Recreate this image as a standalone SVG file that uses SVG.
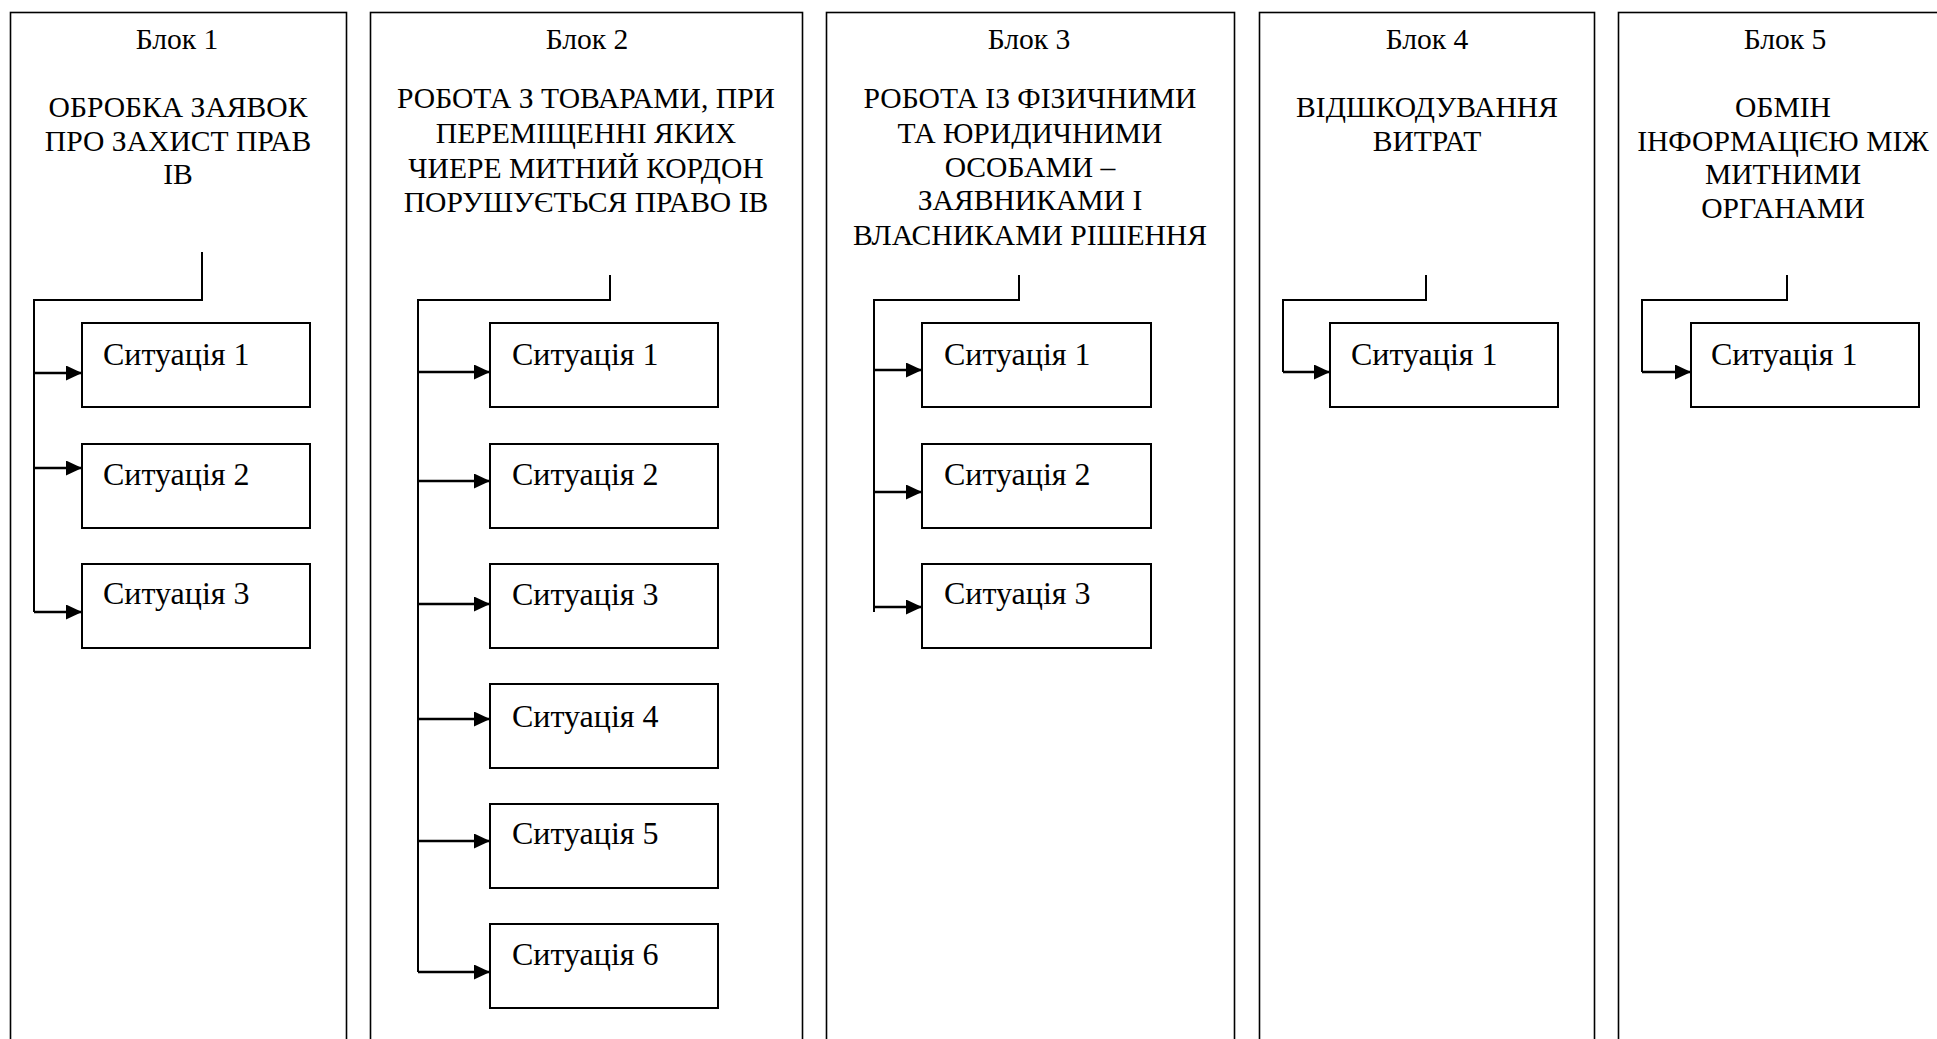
<svg xmlns="http://www.w3.org/2000/svg" width="1937" height="1039" viewBox="0 0 1937 1039">
<style>
.frame{fill:none;stroke:#000;stroke-width:1.6}
.box{fill:#fff;stroke:#000;stroke-width:2}
.t{font-family:"Liberation Serif","Times New Roman",serif;font-size:29.6px;text-anchor:middle;fill:#000}
.s{font-family:"Liberation Serif","Times New Roman",serif;font-size:32px;fill:#000}
.c{fill:none;stroke:#000;stroke-width:2}
.a{fill:none;stroke:#000;stroke-width:2.4;marker-end:url(#arr)}
</style>
<defs>
<marker id="arr" markerUnits="userSpaceOnUse" markerWidth="16" markerHeight="15" refX="16" refY="7.5" orient="auto">
<path d="M0,0 L16,7.5 L0,15 z" fill="#000"/>
</marker>
</defs>
<rect width="1937" height="1039" fill="#fff"/>

<g id="block1">
<rect class="frame" x="10.5" y="12.5" width="336" height="1100"/>
<text class="t" x="177" y="49">Блок 1</text>
<text class="t" x="178" y="117">ОБРОБКА ЗАЯВОК</text>
<text class="t" x="178" y="151">ПРО ЗАХИСТ ПРАВ</text>
<text class="t" x="178" y="184">ІВ</text>
</g>
<g id="b1s1"><rect class="box" x="82" y="323" width="228" height="84"/><text class="s" x="103" y="365">Ситуація 1</text></g>
<g id="b1s2"><rect class="box" x="82" y="444" width="228" height="84"/><text class="s" x="103" y="485">Ситуація 2</text></g>
<g id="b1s3"><rect class="box" x="82" y="564" width="228" height="84"/><text class="s" x="103" y="604">Ситуація 3</text></g>

<g id="block2">
<rect class="frame" x="370.5" y="12.5" width="432" height="1100"/>
<text class="t" x="587" y="49">Блок 2</text>
<text class="t" x="586" y="108">РОБОТА З ТОВАРАМИ, ПРИ</text>
<text class="t" x="586" y="143">ПЕРЕМІЩЕННІ ЯКИХ</text>
<text class="t" x="586" y="178">ЧИЕРЕ МИТНИЙ КОРДОН</text>
<text class="t" x="586" y="212">ПОРУШУЄТЬСЯ ПРАВО ІВ</text>
</g>
<g id="b2s1"><rect class="box" x="490" y="323" width="228" height="84"/><text class="s" x="512" y="365">Ситуація 1</text></g>
<g id="b2s2"><rect class="box" x="490" y="444" width="228" height="84"/><text class="s" x="512" y="485">Ситуація 2</text></g>
<g id="b2s3"><rect class="box" x="490" y="564" width="228" height="84"/><text class="s" x="512" y="605">Ситуація 3</text></g>
<g id="b2s4"><rect class="box" x="490" y="684" width="228" height="84"/><text class="s" x="512" y="727">Ситуація 4</text></g>
<g id="b2s5"><rect class="box" x="490" y="804" width="228" height="84"/><text class="s" x="512" y="844">Ситуація 5</text></g>
<g id="b2s6"><rect class="box" x="490" y="924" width="228" height="84"/><text class="s" x="512" y="965">Ситуація 6</text></g>

<g id="block3">
<rect class="frame" x="826.5" y="12.5" width="408" height="1100"/>
<text class="t" x="1029" y="49">Блок 3</text>
<text class="t" x="1030" y="108">РОБОТА ІЗ ФІЗИЧНИМИ</text>
<text class="t" x="1030" y="143">ТА ЮРИДИЧНИМИ</text>
<text class="t" x="1030" y="177">ОСОБАМИ –</text>
<text class="t" x="1030" y="210">ЗАЯВНИКАМИ І</text>
<text class="t" x="1030" y="245">ВЛАСНИКАМИ РІШЕННЯ</text>
</g>
<g id="b3s1"><rect class="box" x="922" y="323" width="229" height="84"/><text class="s" x="944" y="365">Ситуація 1</text></g>
<g id="b3s2"><rect class="box" x="922" y="444" width="229" height="84"/><text class="s" x="944" y="485">Ситуація 2</text></g>
<g id="b3s3"><rect class="box" x="922" y="564" width="229" height="84"/><text class="s" x="944" y="604">Ситуація 3</text></g>

<g id="block4">
<rect class="frame" x="1259.5" y="12.5" width="335" height="1100"/>
<text class="t" x="1427" y="49">Блок 4</text>
<text class="t" x="1427" y="117">ВІДШКОДУВАННЯ</text>
<text class="t" x="1427" y="151">ВИТРАТ</text>
</g>
<g id="b4s1"><rect class="box" x="1330" y="323" width="228" height="84"/><text class="s" x="1351" y="365">Ситуація 1</text></g>

<g id="block5">
<rect class="frame" x="1618.5" y="12.5" width="340" height="1100"/>
<text class="t" x="1785" y="49">Блок 5</text>
<text class="t" x="1783" y="117">ОБМІН</text>
<text class="t" x="1783" y="151">ІНФОРМАЦІЄЮ МІЖ</text>
<text class="t" x="1783" y="184">МИТНИМИ</text>
<text class="t" x="1783" y="218">ОРГАНАМИ</text>
</g>
<g id="b5s1"><rect class="box" x="1691" y="323" width="228" height="84"/><text class="s" x="1711" y="365">Ситуація 1</text></g>

<g id="connectors">
<path class="c" d="M202,252 V300 H34 V612"/>
<path class="a" d="M34,373 H82"/>
<path class="a" d="M34,468 H82"/>
<path class="a" d="M34,612 H82"/>

<path class="c" d="M610,275 V300 H418 V972"/>
<path class="a" d="M418,372 H490"/>
<path class="a" d="M418,481 H490"/>
<path class="a" d="M418,604 H490"/>
<path class="a" d="M418,719 H490"/>
<path class="a" d="M418,841 H490"/>
<path class="a" d="M418,972 H490"/>

<path class="c" d="M1019,275 V300 H874 V612"/>
<path class="a" d="M874,370 H922"/>
<path class="a" d="M874,492 H922"/>
<path class="a" d="M874,607 H922"/>

<path class="c" d="M1426,275 V300 H1283 V372"/>
<path class="a" d="M1283,372 H1330"/>

<path class="c" d="M1787,275 V300 H1642 V372"/>
<path class="a" d="M1642,372 H1691"/>
</g>
</svg>
